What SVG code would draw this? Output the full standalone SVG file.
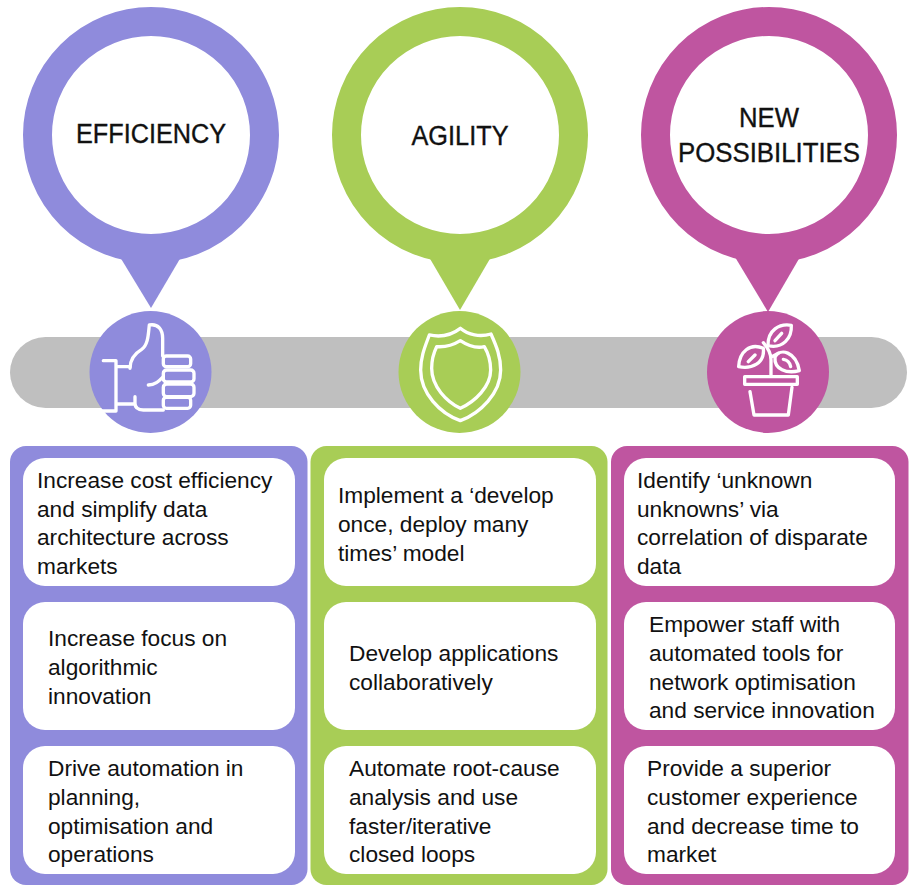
<svg xmlns="http://www.w3.org/2000/svg" width="913" height="885" viewBox="0 0 913 885">
<style>
text{font-family:"Liberation Sans",Arial,sans-serif;fill:#111}
.t{font-size:22.700px}
.h{font-size:27px;text-anchor:middle;stroke:#111;stroke-width:.35}
.box{fill:#fff}
.ic{fill:none;stroke:#fff;stroke-width:10;stroke-linecap:round;stroke-linejoin:round}
.a{fill:#8f8bdc}.b{fill:#a8cd56}.c{fill:#bf55a0}
</style>
<rect id="bar" x="10" y="337" width="897" height="71" rx="35.5" fill="#bfbfbf"/>
<g id="efficiency">
<circle cx="151" cy="135" r="113.5" fill="#fff" stroke="#8f8bdc" stroke-width="29"/>
<path class="a" d="M120 257H181L151 308Z"/>
<text class="h" x="151" y="143" textLength="150" lengthAdjust="spacingAndGlyphs">EFFICIENCY</text>
<circle class="a" cx="150.500" cy="372" r="61"/>
<g transform="translate(80 250) scale(.3333)" class="ic">
<path d="M70 332H108V483H65M108 350H150M108 462H162"/>
<path d="M150 355C150 330 165 310 185 298C205 285 205 250 208 225C235 220 248 240 248 265V318"/>
<path d="M165 440V460C165 475 175 480 190 480H250M205 405C225 405 235 395 250 380"/>
<rect x="250" y="318" width="82" height="32" rx="9"/><rect x="250" y="360" width="92" height="36" rx="10"/><rect x="250" y="402" width="92" height="38" rx="10"/><rect x="250" y="442" width="82" height="33" rx="9"/>
</g>
</g>
<g id="agility">
<circle cx="460" cy="135" r="113.500" fill="#fff" stroke="#a8cd56" stroke-width="29"/>
<path class="b" d="M429 257H491L460 310Z"/>
<text class="h" x="460" y="145" textLength="97" lengthAdjust="spacingAndGlyphs">AGILITY</text>
<circle class="b" cx="459.500" cy="372" r="61"/>
<g transform="translate(390 250) scale(.3333)" class="ic">
<path d="M118 255C150 262 185 255 211 235C235 255 270 262 303 252C320 290 332 320 332 360C332 430 270 490 211 512C150 490 92 430 92 360C92 320 105 290 118 255Z"/>
<path d="M140 290C165 292 190 285 211 272C235 288 260 295 283 290C295 310 302 330 302 360C302 410 255 455 211 475C170 455 125 410 125 355C125 330 130 310 140 290Z"/>
</g>
</g>
<g id="new-possibilities">
<circle cx="769" cy="135" r="113.500" fill="#fff" stroke="#bf55a0" stroke-width="29"/>
<path class="c" d="M735 257H800L768 312Z"/>
<text class="h" x="769" y="127" textLength="60" lengthAdjust="spacingAndGlyphs">NEW</text>
<text class="h" x="769" y="162" textLength="182" lengthAdjust="spacingAndGlyphs">POSSIBILITIES</text>
<circle class="c" cx="768" cy="372" r="61"/>
<g transform="translate(700 250) scale(.3333)" class="ic">
<path d="M134 380H292V403H134ZM150 425L162 495H265L276 412"/>
<path d="M213 375V330C213 310 205 295 190 278M213 322L235 310"/>
<path d="M190 295C150 278 118 305 116 350C155 358 195 340 190 295ZM145 335L165 315"/>
<path d="M274 226C238 220 203 240 204 287C248 297 276 265 274 226ZM225 272L245 250"/>
<path d="M225 322C240 292 288 305 298 362C260 372 222 358 225 322ZM250 328C265 330 270 340 272 350"/>
</g>
</g>
<g id="panel-efficiency">
<rect class="a" x="10" y="446" width="297.500" height="439" rx="16"/>
<rect class="box" x="23" y="458" width="272" height="128" rx="22"/>
<rect class="box" x="23" y="602" width="272" height="128" rx="22"/>
<rect class="box" x="23" y="746" width="272" height="128" rx="22"/>
<text class="t" x="37" y="488">Increase cost efficiency</text><text class="t" x="37" y="517">and simplify data</text><text class="t" x="37" y="545">architecture across</text><text class="t" x="37" y="574">markets</text>
<text class="t" x="48" y="646">Increase focus on</text><text class="t" x="48" y="675">algorithmic</text><text class="t" x="48" y="704">innovation</text>
<text class="t" x="48" y="776">Drive automation in</text><text class="t" x="48" y="805">planning,</text><text class="t" x="48" y="834">optimisation and</text><text class="t" x="48" y="862">operations</text>
</g>
<g id="panel-agility">
<rect class="b" x="310.500" y="446" width="297" height="439" rx="16"/>
<rect class="box" x="324" y="458" width="272" height="128" rx="22"/>
<rect class="box" x="324" y="602" width="272" height="128" rx="22"/>
<rect class="box" x="324" y="746" width="272" height="128" rx="22"/>
<text class="t" x="338" y="503">Implement a ‘develop</text><text class="t" x="338" y="532">once, deploy many</text><text class="t" x="338" y="561">times’ model</text>
<text class="t" x="349" y="661">Develop applications</text><text class="t" x="349" y="690">collaboratively</text>
<text class="t" x="349" y="776">Automate root-cause</text><text class="t" x="349" y="805">analysis and use</text><text class="t" x="349" y="834">faster/iterative</text><text class="t" x="349" y="862">closed loops</text>
</g>
<g id="panel-new-possibilities">
<rect class="c" x="611" y="446" width="297.500" height="439" rx="16"/>
<rect class="box" x="624" y="458" width="271" height="128" rx="22"/>
<rect class="box" x="624" y="602" width="271" height="128" rx="22"/>
<rect class="box" x="624" y="746" width="271" height="128" rx="22"/>
<text class="t" x="637" y="488">Identify ‘unknown</text><text class="t" x="637" y="517">unknowns’ via</text><text class="t" x="637" y="545">correlation of disparate</text><text class="t" x="637" y="574">data</text>
<text class="t" x="649" y="632">Empower staff with</text><text class="t" x="649" y="661">automated tools for</text><text class="t" x="649" y="690">network optimisation</text><text class="t" x="649" y="718">and service innovation</text>
<text class="t" x="647" y="776">Provide a superior</text><text class="t" x="647" y="805">customer experience</text><text class="t" x="647" y="834">and decrease time to</text><text class="t" x="647" y="862">market</text>
</g>
</svg>
